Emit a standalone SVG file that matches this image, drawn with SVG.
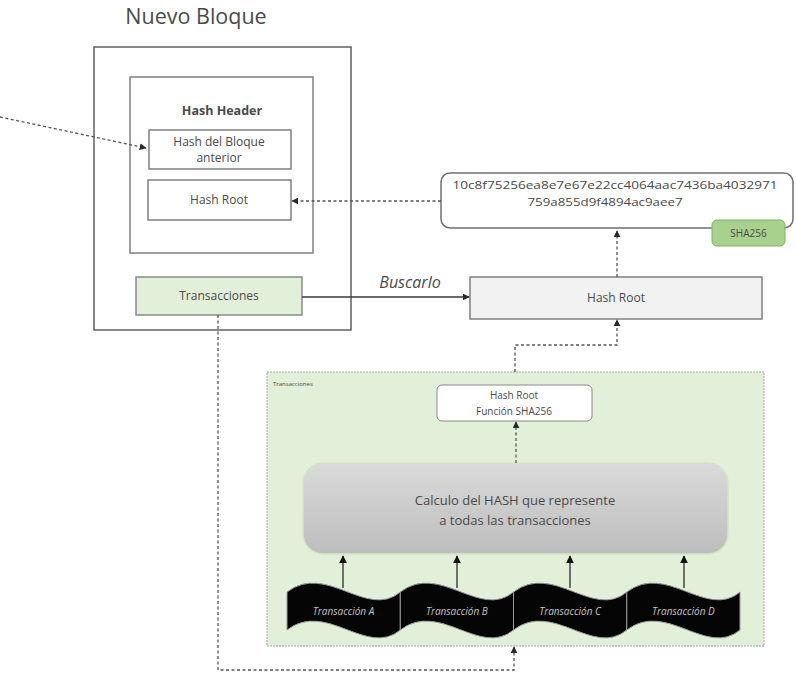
<svg xmlns="http://www.w3.org/2000/svg" width="796" height="676" viewBox="0 0 796 676">
  <style>
    .t { font-family: "Open Sans", "Liberation Sans", sans-serif; fill: #4a4a4a; }
    .box { fill: #ffffff; stroke: #7f7f7f; stroke-width: 1.5; }
    .dash { fill: none; stroke: #555555; stroke-width: 1.3; stroke-dasharray: 3 2.5; }
    .solid { fill: none; stroke: #3a3a3a; stroke-width: 1.4; }
    .wave { fill: #050505; stroke: #9a9a9a; stroke-width: 1; }
    .wt { font-family: "Open Sans", "Liberation Sans", sans-serif; font-style: italic; font-size: 10px; fill: #c4c4c4; }
  </style>
  <defs>
    <marker id="arr" viewBox="0 0 10 10" refX="9" refY="5" markerWidth="7" markerHeight="7" markerUnits="userSpaceOnUse" orient="auto">
      <path d="M0,0 L10,5 L0,10 Z" fill="#2a2a2a"/>
    </marker>
    <marker id="arrB" viewBox="0 0 10 10" refX="9" refY="5" markerWidth="8" markerHeight="8" markerUnits="userSpaceOnUse" orient="auto">
      <path d="M0,0 L10,5 L0,10 Z" fill="#111111"/>
    </marker>
    <linearGradient id="calcGrad" x1="0" y1="0" x2="0" y2="1">
      <stop offset="0" stop-color="#dadada"/>
      <stop offset="1" stop-color="#bdbdbd"/>
    </linearGradient>
  </defs>

  <rect width="796" height="676" fill="#ffffff"/>

  <!-- New block -->
  <g id="nuevo-bloque">
    <text class="t" x="196" y="24" font-size="21.5" text-anchor="middle" fill="#3a3a3a">Nuevo Bloque</text>
    <rect x="94" y="47" width="257" height="283" fill="#ffffff" stroke="#5f5f5f" stroke-width="1.5"/>
  </g>

  <g id="hash-header">
    <rect class="box" x="130" y="77" width="183" height="176" stroke="#6f6f6f"/>
    <text class="t" x="222" y="115" font-size="12.5" font-weight="bold" text-anchor="middle" fill="#333">Hash Header</text>
  </g>

  <g id="hash-bloque-anterior">
    <rect class="box" x="149" y="130" width="142" height="39"/>
    <text class="t" x="219" y="146" font-size="12" text-anchor="middle">Hash del Bloque</text>
    <text class="t" x="219" y="162" font-size="12" text-anchor="middle">anterior</text>
  </g>

  <g id="hash-root-header">
    <rect class="box" x="148" y="180" width="143" height="40"/>
    <text class="t" x="219" y="204" font-size="12" text-anchor="middle">Hash Root</text>
  </g>

  <g id="transacciones">
    <rect x="136" y="277" width="166" height="38" fill="#e2efd9" stroke="#8a8a8a" stroke-width="1.5"/>
    <text class="t" x="219" y="300" font-size="12" text-anchor="middle">Transacciones</text>
  </g>

  <!-- SHA256 result -->
  <g id="hash-valor">
    <rect x="441" y="173" width="352" height="55" rx="9" fill="#ffffff" stroke="#6f6f6f" stroke-width="1.5"/>
    <text class="t" x="615" y="189" font-size="11.5" text-anchor="middle" fill="#bdbdbd" textLength="325" lengthAdjust="spacingAndGlyphs">10c8f75256ea8e7e67e22cc4064aac7436ba4032971</text>
    <text class="t" x="605" y="206" font-size="11.5" text-anchor="middle" fill="#bdbdbd" textLength="155" lengthAdjust="spacingAndGlyphs">759a855d9f4894ac9aee7</text>
  </g>

  <g id="sha256-tag">
    <rect x="712" y="220" width="73" height="26" rx="5" fill="#a9d18e" stroke="#7fb35f" stroke-width="1"/>
    <text class="t" x="748.5" y="237" font-size="10" text-anchor="middle" fill="#2f4a1f">SHA256</text>
  </g>

  <g id="hash-root">
    <rect x="470" y="277" width="292" height="42" fill="#f2f2f2" stroke="#7f7f7f" stroke-width="1.5"/>
    <text class="t" x="616" y="302" font-size="12" text-anchor="middle">Hash Root</text>
  </g>

  <g id="buscarlo-label">
    <text class="t" x="410" y="288" font-size="16" font-style="italic" text-anchor="middle" fill="#3a3a3a">Buscarlo</text>
  </g>

  <!-- Transactions container -->
  <g id="contenedor-transacciones">
    <rect x="267" y="372" width="497" height="274" fill="#e2efd9" stroke="#a8a8a8" stroke-width="1" stroke-dasharray="2 1"/>
    <text class="t" x="273" y="386" font-size="6" fill="#555">Transacciones</text>
  </g>

  <g id="hash-root-funcion">
    <rect x="437" y="385" width="155" height="36" rx="5" fill="#ffffff" stroke="#8a8a8a" stroke-width="1"/>
    <text class="t" x="514" y="399" font-size="10" text-anchor="middle">Hash Root</text>
    <text class="t" x="514" y="415" font-size="10" text-anchor="middle">Función SHA256</text>
  </g>

  <g id="calculo-hash">
    <rect x="303" y="463" width="425" height="91" rx="20" fill="url(#calcGrad)" stroke="#d4e6c8" stroke-width="1.5"/>
    <text class="t" x="515" y="505" font-size="13" text-anchor="middle" fill="#333">Calculo del HASH que represente</text>
    <text class="t" x="515" y="525" font-size="13" text-anchor="middle" fill="#333">a todas las transacciones</text>
  </g>

  <!-- Wave banners, one per transaction -->
  <g id="transaccion-a">
    <path class="wave" d="M287,592 C326.6,562 366.6,620 400.3,592 L400.3,630 C366.6,658 326.6,600 287,630 Z"/>
    <text class="wt" x="343.6" y="615" text-anchor="middle">Transacción A</text>
  </g>
  <g id="transaccion-b">
    <path class="wave" d="M400.3,592 C439.9,562 479.9,620 513.5,592 L513.5,630 C479.9,658 439.9,600 400.3,630 Z"/>
    <text class="wt" x="456.9" y="615" text-anchor="middle">Transacción B</text>
  </g>
  <g id="transaccion-c">
    <path class="wave" d="M513.5,592 C553.1,562 593.1,620 626.8,592 L626.8,630 C593.1,658 553.1,600 513.5,630 Z"/>
    <text class="wt" x="570.1" y="615" text-anchor="middle">Transacción C</text>
  </g>
  <g id="transaccion-d">
    <path class="wave" d="M626.8,592 C666.4,562 706.4,620 740,592 L740,630 C706.4,658 666.4,600 626.8,630 Z"/>
    <text class="wt" x="683.4" y="615" text-anchor="middle">Transacción D</text>
  </g>

  <!-- Connectors -->
  <g id="conectores">
    <path class="dash" d="M0,117 L146,148" marker-end="url(#arr)"/>
    <path class="dash" d="M441,201 L292,201" marker-end="url(#arr)"/>
    <path class="dash" d="M617,277 L617,231" marker-end="url(#arr)"/>
    <path class="solid" d="M302,297 L469,297" marker-end="url(#arr)"/>
    <path class="dash" d="M515,372 V345 H617 V320" marker-end="url(#arr)"/>
    <path class="dash" d="M516,463 V422" marker-end="url(#arr)"/>
    <path class="dash" d="M218,315 V670 H514 V647" marker-end="url(#arr)"/>
    <path class="solid" d="M343,588 V556" stroke="#111" stroke-width="2" marker-end="url(#arrB)"/>
    <path class="solid" d="M457,588 V556" stroke="#111" stroke-width="2" marker-end="url(#arrB)"/>
    <path class="solid" d="M570,588 V556" stroke="#111" stroke-width="2" marker-end="url(#arrB)"/>
    <path class="solid" d="M684,588 V556" stroke="#111" stroke-width="2" marker-end="url(#arrB)"/>
  </g>
</svg>
